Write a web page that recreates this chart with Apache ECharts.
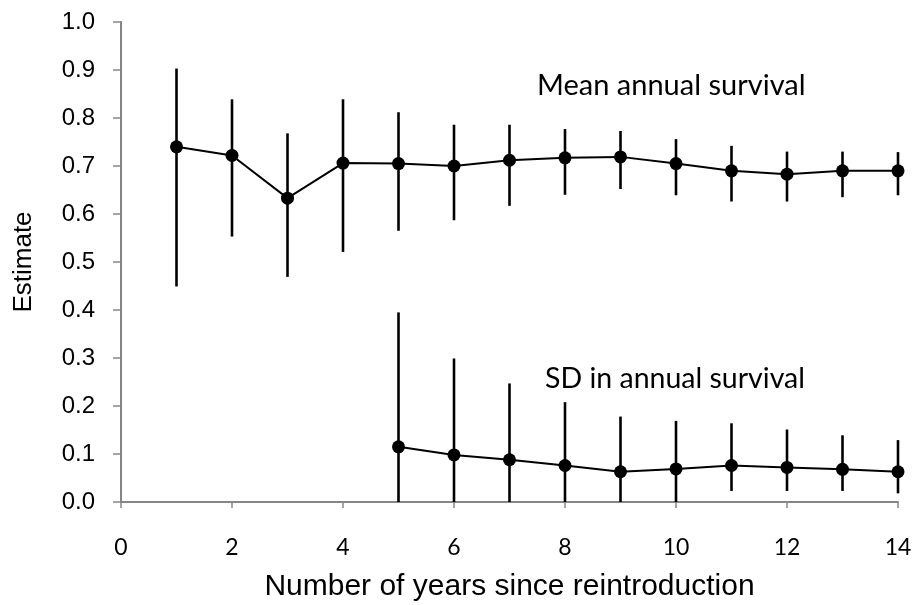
<!DOCTYPE html>
<html>
<head>
<meta charset="utf-8">
<script src="https://cdn.jsdelivr.net/npm/echarts@6/dist/echarts.min.js"></script>
<style>
html,body{margin:0;padding:0;background:#fff;}
#chart{width:913px;height:605px;}
</style>
</head>
<body>
<div id="chart"></div>
<script>
var years = [1,2,3,4,5,6,7,8,9,10,11,12,13,14];
var meanEst = [0.740,0.722,0.633,0.706,0.705,0.700,0.712,0.717,0.719,0.705,0.690,0.683,0.690,0.690];
var meanLo  = [0.449,0.553,0.469,0.521,0.565,0.587,0.617,0.640,0.652,0.639,0.626,0.626,0.635,0.639];
var meanHi  = [0.903,0.839,0.768,0.839,0.812,0.786,0.786,0.777,0.773,0.756,0.742,0.730,0.730,0.729];
var sdYears = [5,6,7,8,9,10,11,12,13,14];
var sdEst = [0.115,0.098,0.088,0.076,0.063,0.069,0.076,0.072,0.068,0.063];
var sdLo  = [0,0,0,0,0,0,0.023,0.023,0.023,0.018];
var sdHi  = [0.395,0.299,0.247,0.208,0.178,0.169,0.164,0.151,0.139,0.129];
var xTicks = [0,2,4,6,8,10,12,14];
var seriesLabels = ['Mean annual survival','SD in annual survival'];

function pts(xs, ys){ return xs.map(function(x,i){ return [x, ys[i]]; }); }
function bars(xs, lo, hi){ return xs.map(function(x,i){ return [x, lo[i], hi[i]]; }); }

function errRender(params, api){
  var a = api.coord([api.value(0), api.value(1)]);
  var b = api.coord([api.value(0), api.value(2)]);
  return {type:'line', shape:{x1:a[0],y1:a[1],x2:b[0],y2:b[1]}, style:{stroke:'#000', lineWidth:2.6}};
}

var chart = echarts.init(document.getElementById('chart'));
var axisCol = '#868686';
chart.setOption({
  animation:false,
  grid:{left:121, right:15, top:22, bottom:103, containLabel:false, outerBoundsMode:'none'},
  xAxis:{
    type:'value', min:xTicks[0], max:xTicks[xTicks.length-1], interval:2,
    axisLine:{lineStyle:{color:axisCol, width:2}},
    axisTick:{show:true, length:6, lineStyle:{color:axisCol, width:1.5}},
    splitLine:{show:false},
    axisLabel:{color:'#000', fontFamily:'Lato', fontSize:23, margin:34},
    name:'Number of years since reintroduction', nameLocation:'middle', nameGap:70,
    nameTextStyle:{color:'#000', fontFamily:'Liberation Sans', fontSize:30}
  },
  yAxis:{
    type:'value', min:0, max:1, interval:0.1,
    axisLine:{show:true, lineStyle:{color:axisCol, width:2}},
    axisTick:{show:true, length:8, lineStyle:{color:axisCol, width:1.5}},
    splitLine:{show:false},
    axisLabel:{color:'#000', fontFamily:'Liberation Sans', fontSize:24, margin:26,
      formatter:function(v){ return v.toFixed(1); }},
    name:'Estimate', nameLocation:'middle', nameGap:84,
    nameTextStyle:{color:'#000', fontFamily:'Liberation Sans', fontSize:26}
  },
  graphic:[
    {type:'text', x:537, y:86, style:{text:seriesLabels[0], fill:'#000', font:'29px Lato', textVerticalAlign:'middle'}},
    {type:'text', x:545, y:379, style:{text:seriesLabels[1], fill:'#000', font:'28.5px Lato', textVerticalAlign:'middle'}}
  ],
  series:[
    {type:'custom', renderItem:errRender, data:bars(years, meanLo, meanHi), encode:{x:0,y:[1,2]}, z:1},
    {type:'custom', renderItem:errRender, data:bars(sdYears, sdLo, sdHi), encode:{x:0,y:[1,2]}, z:1},
    {type:'line', data:pts(years, meanEst), symbol:'circle', symbolSize:13,
      lineStyle:{color:'#000', width:2}, itemStyle:{color:'#000'}, z:3},
    {type:'line', data:pts(sdYears, sdEst), symbol:'circle', symbolSize:13,
      lineStyle:{color:'#000', width:2}, itemStyle:{color:'#000'}, z:3}
  ]
});
</script>
</body>
</html>
